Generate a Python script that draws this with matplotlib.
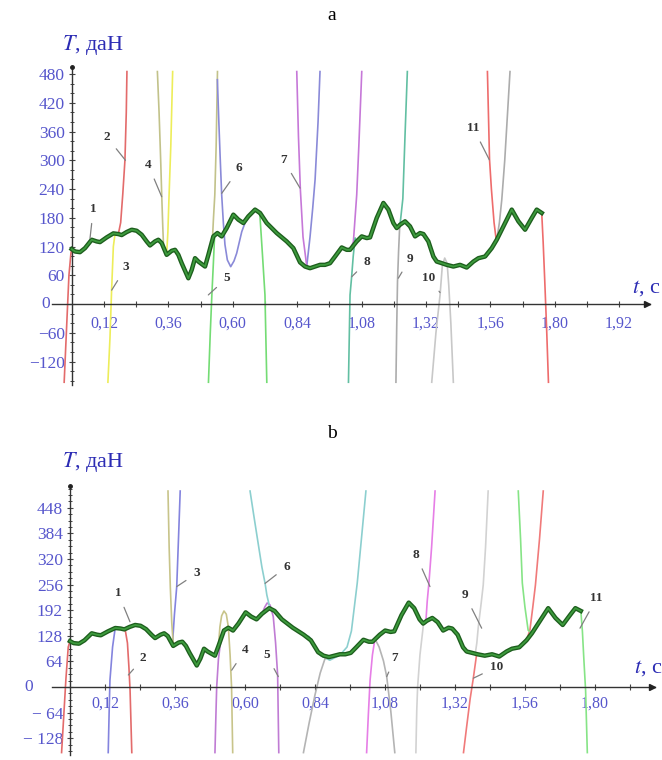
import matplotlib
matplotlib.use('Agg')
import matplotlib.pyplot as plt
from matplotlib.ticker import FixedLocator, MultipleLocator

plt.rcParams['mathtext.fontset'] = 'stix'
SERIF = ['Liberation Serif', 'DejaVu Serif']

# ---------------- main measured curve (1), t in s, T in daN ----------------
GREEN_T = [0.000, 0.0124, 0.0309, 0.0496, 0.0745, 0.0930, 0.1055, 0.1303, 0.1552, 0.1738,
           0.1863, 0.2049, 0.2235, 0.2421, 0.2608, 0.2794, 0.2918, 0.3105, 0.3229, 0.3354,
           0.3539, 0.3726, 0.3851, 0.3975, 0.4099, 0.4347, 0.4472, 0.4596, 0.4720, 0.4969,
           0.5093, 0.5279, 0.5428, 0.5590, 0.5776, 0.6024, 0.6211, 0.6397, 0.6584, 0.6832,
           0.7018, 0.7266, 0.7639, 0.8012, 0.8260, 0.8509, 0.8695, 0.8881, 0.9068, 0.9254,
           0.9441, 0.9627, 0.9814, 1.0062, 1.0248, 1.0372, 1.0621, 1.0807, 1.0994, 1.1118,
           1.1366, 1.1615, 1.1802, 1.1987, 1.2111, 1.2236, 1.2423, 1.2608, 1.2795, 1.2981,
           1.3106, 1.3292, 1.3478, 1.3602, 1.3789, 1.3975, 1.4223, 1.4472, 1.4720, 1.4969,
           1.5156, 1.5404, 1.5653, 1.5839, 1.6087, 1.6398, 1.6647, 1.6895, 1.7144, 1.7329,
           1.7516]
GREEN_V = [114.6, 109.7, 108.3, 116.7, 134.2, 130.7, 129.3, 139.1, 147.5, 146.1,
           144.0, 150.3, 155.1, 153.0, 144.7, 130.7, 122.3, 130.7, 134.2, 127.2,
           102.7, 111.1, 113.2, 102.7, 85.3, 53.8, 71.3, 95.7, 88.7, 78.3,
           102.7, 141.2, 148.2, 141.2, 158.6, 186.6, 176.1, 169.1, 183.1, 197.1,
           190.1, 169.1, 148.2, 130.7, 116.7, 87.0, 78.3, 74.8, 78.3, 81.8,
           81.8, 85.3, 99.2, 118.1, 113.2, 113.2, 130.7, 141.2, 137.7, 139.1,
           179.6, 211.0, 197.1, 169.1, 158.6, 165.6, 172.6, 162.1, 141.2, 148.2,
           146.1, 130.7, 99.2, 88.7, 85.3, 81.8, 78.3, 81.8, 76.2, 88.7,
           95.7, 99.2, 116.7, 134.2, 162.1, 197.1, 172.6, 155.1, 179.6, 197.1,
           190.1]

# ---------------- panel a: approximating curves 2..11 (diverging branches) ----------------
A2_LEFT = [(-0.0282, -165), (-0.0183, -40), (-0.0103, 60), (-0.003, 105)]
A2_RIGHT = [(0.1738, 146), (0.1825, 170), (0.1904, 230), (0.1984, 300), (0.2034, 400), (0.2059, 487)]
A3_LEFT = [(0.1348, -165), (0.1427, -70), (0.1487, 29), (0.1552, 120), (0.1616, 147)]
A3_RIGHT = [(0.3539, 105), (0.3584, 150), (0.3624, 220), (0.3693, 330), (0.3763, 487)]
A4_LEFT = [(0.3192, 487), (0.3256, 400), (0.3316, 300), (0.3356, 225), (0.3395, 160), (0.3425, 118)]
A4_RIGHT = [(0.5244, 135), (0.5284, 180), (0.5333, 228), (0.5383, 330), (0.5433, 487)]
A5_LEFT = [(0.5095, -165), (0.5164, -60), (0.5224, 20), (0.5279, 85), (0.5328, 145)]
A5_RIGHT = [(0.6894, 193), (0.7013, 186), (0.7112, 100), (0.7202, 19), (0.7271, -165)]
A6_LEFT = [(0.5428, 470), (0.5483, 380), (0.5537, 300), (0.5589, 228), (0.5651, 170), (0.5711, 124),
           (0.5800, 92), (0.5925, 78), (0.6049, 90), (0.6148, 106), (0.6337, 151), (0.6456, 169)]
A6_RIGHT = [(0.8757, 78), (0.8881, 140), (0.8981, 200), (0.9070, 260), (0.9180, 380), (0.9254, 487)]
A7_LEFT = [(0.8386, 487), (0.845, 350), (0.852, 240), (0.862, 140), (0.8757, 80)]
A7_RIGHT = [(1.0497, 130), (1.0560, 180), (1.0621, 228), (1.0700, 330), (1.0810, 487)]
A8_LEFT = [(1.0313, -165), (1.034, -80), (1.0372, 19), (1.0432, 57), (1.0491, 100), (1.0561, 138)]
A8_RIGHT = [(1.2236, 166), (1.2340, 220), (1.2420, 350), (1.2509, 487)]
A9_LEFT = [(1.2082, -165), (1.2111, -50), (1.2141, 47), (1.2181, 110), (1.2221, 160)]
A9_RIGHT = [(1.5839, 134), (1.5938, 170), (1.6027, 218), (1.6137, 300), (1.6335, 487)]
A10_LEFT = [(1.3414, -165), (1.3573, -60), (1.3727, 19), (1.3811, 80), (1.3900, 96), (1.3990, 85),
            (1.4050, 40), (1.4129, -40), (1.4223, -165)]
A10_RIGHT = []
A11_LEFT = [(1.5491, 487), (1.5570, 302), (1.5640, 240), (1.5739, 170), (1.5819, 134)]
A11_RIGHT = [(1.7518, 187), (1.7568, 130), (1.7627, 50), (1.7697, -50), (1.7767, -165)]

# label number, text position (t, T), pointed position (t, T)
A_LABELS = [('1', (0.0805, 198), (0.0682, 137)),
            ('2', (0.1304, 349), (0.2004, 300)),
            ('3', (0.2024, 77), (0.149, 29)),
            ('4', (0.2855, 290), (0.3354, 224)),
            ('5', (0.5777, 54), (0.5091, 19)),
            ('6', (0.6246, 283), (0.559, 231)),
            ('7', (0.7886, 301), (0.8509, 242)),
            ('8', (1.0995, 88), (1.0436, 57)),
            ('9', (1.2609, 95), (1.2172, 54)),
            ('10', (1.3291, 54), (1.3727, 24)),
            ('11', (1.4968, 367), (1.5564, 301))]

# ---------------- panel b ----------------
B2_LEFT = [(-0.029, -166), (-0.022, -80), (-0.014, 20), (-0.006, 100)]
B2_RIGHT = [(0.18, 147), (0.19, 140), (0.197, 110), (0.202, 50), (0.206, -8), (0.212, -166)]
B3_LEFT = [(0.131, -166), (0.134, -70), (0.137, 17), (0.146, 100), (0.154, 142)]
B3_RIGHT = [(0.352, 113), (0.358, 180), (0.366, 251), (0.372, 370), (0.378, 492)]
B4_LEFT = [(0.336, 492), (0.340, 350), (0.344, 250), (0.349, 160), (0.354, 108)]
B4_RIGHT = [(0.509, 101), (0.514, 150), (0.52, 178), (0.528, 190), (0.536, 182), (0.543, 150),
            (0.549, 80), (0.554, 0), (0.558, -166)]
B5_LEFT = [(0.497, -166), (0.500, -80), (0.503, 0), (0.509, 70), (0.516, 110)]
B5_RIGHT = [(0.668, 200), (0.676, 210), (0.686, 205), (0.697, 176), (0.705, 110), (0.712, 30), (0.716, -166)]
B6_LEFT = [(0.617, 492), (0.63, 430), (0.645, 360), (0.658, 300), (0.669, 259), (0.675, 230), (0.683, 205)]
B6_RIGHT = [(0.82, 126), (0.84, 100), (0.86, 78), (0.891, 67), (0.926, 80), (0.95, 100), (0.965, 140),
            (0.975, 200), (0.985, 260), (0.998, 360), (1.015, 492)]
B7_LEFT = [(0.80, -166), (0.82, -90), (0.84, -20), (0.858, 35), (0.874, 70)]
B7_RIGHT = [(1.046, 120), (1.06, 100), (1.075, 65), (1.086, 26), (1.1, -60), (1.114, -166)]
B8_LEFT = [(1.017, -166), (1.023, -70), (1.029, 17), (1.037, 80), (1.046, 122)]
B8_RIGHT = [(1.22, 160), (1.225, 215), (1.231, 262), (1.24, 350), (1.252, 492)]
B9_LEFT = [(1.186, -166), (1.189, -60), (1.192, 0), (1.2, 80), (1.211, 150)]
B9_RIGHT = [(1.39, 85), (1.395, 110), (1.40, 150), (1.41, 210), (1.417, 255), (1.425, 350), (1.434, 492)]
B10_LEFT = [(1.349, -166), (1.36, -100), (1.372, -30), (1.383, 22), (1.394, 80)]
B10_RIGHT = [(1.577, 142), (1.587, 200), (1.596, 255), (1.61, 370), (1.623, 492)]
B11_LEFT = [(1.537, 492), (1.545, 370), (1.551, 260), (1.56, 200), (1.571, 142)]
B11_RIGHT = [(1.752, 187), (1.757, 140), (1.762, 70), (1.768, -8), (1.774, -166)]

B_LABELS = [('1', (0.1656, 234), (0.2057, 163)),
            ('2', (0.2513, 72), (0.200, 30)),
            ('3', (0.4345, 284), (0.366, 251)),
            ('4', (0.600, 92), (0.5545, 42)),
            ('5', (0.6745, 80), (0.7143, 26)),
            ('6', (0.7431, 301), (0.669, 259)),
            ('7', (1.1144, 72), (1.086, 26)),
            ('8', (1.1864, 330), (1.2344, 251)),
            ('9', (1.3545, 230), (1.4117, 147)),
            ('10', (1.4632, 50), (1.383, 22)),
            ('11', (1.806, 222), (1.7488, 147))]

# ---------------- ticks ----------------
A_XTICKS = [0.12, 0.36, 0.60, 0.84, 1.08, 1.32, 1.56, 1.80, 2.04]
A_XLABELS = ['0,12', '0,36', '0,60', '0,84', '1,08', '1,32', '1,56', '1,80', '1,92']
A_XMINOR = [0.24, 0.48, 0.72, 0.96, 1.20, 1.44, 1.68, 1.92]
A_YTICKS = [-120, -60, 0, 60, 120, 180, 240, 300, 360, 420, 480]
A_YLABELS = ['\u2212120', '\u221260', '', '60', '120', '180', '240', '300', '360', '420', '480']
A_ZERO_T = -0.098

B_XTICKS = [0.12, 0.36, 0.60, 0.84, 1.08, 1.32, 1.56, 1.80]
B_XLABELS = ['0,12', '0,36', '0,60', '0,84', '1,08', '1,32', '1,56', '1,80']
B_XMINOR = [0.24, 0.48, 0.72, 0.96, 1.20, 1.44, 1.68, 1.92]
B_YTICKS = [-128, -64, 0, 64, 128, 192, 256, 320, 384, 448]
B_YLABELS = ['\u2212 128', '\u2212 64', '', '64', '128', '192', '256', '320', '384', '448']
B_ZERO_T = -0.142

# ---------------- styles ----------------
A_CURVES = [(A2_LEFT, A2_RIGHT, '#e36b6b'), (A3_LEFT, A3_RIGHT, '#eded5a'),
            (A4_LEFT, A4_RIGHT, '#c2c28a'), (A5_LEFT, A5_RIGHT, '#74dc74'),
            (A6_LEFT, A6_RIGHT, '#8a8ad8'), (A7_LEFT, A7_RIGHT, '#c678d8'),
            (A8_LEFT, A8_RIGHT, '#62bfa2'), (A9_LEFT, A9_RIGHT, '#acacac'),
            (A10_LEFT, A10_RIGHT, '#c8c8c8'), (A11_LEFT, A11_RIGHT, '#ee6c6c')]
B_CURVES = [(B2_LEFT, B2_RIGHT, '#e36b6b'), (B3_LEFT, B3_RIGHT, '#8484de'),
            (B4_LEFT, B4_RIGHT, '#c8c48a'), (B5_LEFT, B5_RIGHT, '#c07cd4'),
            (B6_LEFT, B6_RIGHT, '#8ccfcf'), (B7_LEFT, B7_RIGHT, '#b4b4b4'),
            (B8_LEFT, B8_RIGHT, '#e67ee6'), (B9_LEFT, B9_RIGHT, '#d2d2d2'),
            (B10_LEFT, B10_RIGHT, '#f07a7a'), (B11_LEFT, B11_RIGHT, '#86e486')]

TICK_BLUE = '#5656cc'
LABEL_BLUE = '#2c2cb4'


def assemble(left, right):
    ts = [p[0] for p in left]
    vs = [p[1] for p in left]
    if left and right:
        t0, t1 = left[-1][0], right[0][0]
        for t, v in zip(GREEN_T, GREEN_V):
            if t0 < t < t1:
                ts.append(t)
                vs.append(v)
    ts += [p[0] for p in right]
    vs += [p[1] for p in right]
    return ts, vs


def draw_panel(ax, curves, labels, xt, xl, xminor, yt, yl, yminor, xlim, ylim, xpad, ypad, zero_t):
    ax.set_xlim(*xlim)
    ax.set_ylim(*ylim)
    for left, right, col in curves:
        ts, vs = assemble(left, right)
        ax.plot(ts, vs, color=col, lw=1.2, zorder=2, solid_capstyle='butt')
    ax.plot(GREEN_T, GREEN_V, color='#1d5e1d', lw=3.2, zorder=4, solid_joinstyle='round')
    ax.plot(GREEN_T, GREEN_V, color='#3d9b3d', lw=1.3, zorder=5, solid_joinstyle='round')
    for txt, tp, pp in labels:
        ax.annotate(txt, xy=pp, xytext=tp, ha='center', va='center', fontsize=9.5,
                    fontfamily=SERIF, fontweight='bold', color='#333333', zorder=6,
                    arrowprops=dict(arrowstyle='-', color='#808080', lw=0.9,
                                    shrinkA=4, shrinkB=0))
    for s in ('top', 'right'):
        ax.spines[s].set_visible(False)
    ax.spines['left'].set_position(('data', 0))
    ax.spines['bottom'].set_position(('data', 0))
    for s in ('left', 'bottom'):
        ax.spines[s].set_color('#333333')
        ax.spines[s].set_linewidth(1.0)
    ax.xaxis.set_major_locator(FixedLocator(xt))
    ax.xaxis.set_minor_locator(FixedLocator(xminor))
    ax.set_xticklabels(xl, fontfamily=SERIF, fontsize=11.5, color=TICK_BLUE)
    ax.yaxis.set_major_locator(FixedLocator(yt))
    ax.yaxis.set_minor_locator(MultipleLocator(yminor))
    ax.set_yticklabels(yl, fontfamily=SERIF, fontsize=12.5, color=TICK_BLUE)
    ax.text(zero_t, 0, '0', ha='center', va='center', fontfamily=SERIF, fontsize=12.5,
            color=TICK_BLUE, clip_on=False)
    ax.tick_params(axis='x', which='both', direction='inout', length=4, width=0.8,
                   color='#444444', pad=xpad)
    ax.tick_params(axis='y', which='major', direction='inout', length=4, width=0.8,
                   color='#444444', pad=ypad)
    ax.tick_params(axis='y', which='minor', direction='inout', length=3, width=0.7,
                   color='#444444')
    ax.plot(0.995, 0, marker='>', color='#222222', ms=4.5, transform=ax.get_yaxis_transform(),
            clip_on=False, zorder=7)
    ax.plot(0, 1, marker='o', color='#222222', ms=2.5, transform=ax.get_xaxis_transform(),
            clip_on=False, zorder=7)
    ax.patch.set_alpha(0)


fig = plt.figure(figsize=(6.62, 7.60), dpi=100)
W, H = 662.0, 760.0

ax_a = fig.add_axes([52 / W, 1 - 385 / H, 598 / W, 318 / H])
draw_panel(ax_a, A_CURVES, A_LABELS, A_XTICKS, A_XLABELS, A_XMINOR, A_YTICKS, A_YLABELS, 20,
           (-0.0734, 2.155), (-169, 494.8), 6, 3, A_ZERO_T)

ax_b = fig.add_axes([52 / W, 1 - 755 / H, 603 / W, 269 / H])
draw_panel(ax_b, B_CURVES, B_LABELS, B_XTICKS, B_XLABELS, B_XMINOR, B_YTICKS, B_YLABELS, 16,
           (-0.0617, 2.006), (-170, 502.5), 4, 3, B_ZERO_T)

fig.text(332 / W, 1 - 15 / H, 'a', ha='center', va='center', fontsize=14, fontfamily=SERIF, color='black')
fig.text(332 / W, 1 - 433 / H, 'b', ha='center', va='center', fontsize=14, fontfamily=SERIF, color='black')
fig.text(62 / W, 1 - 45 / H, r'$T$, даН', ha='left', va='center', fontsize=16, fontfamily=SERIF, color=LABEL_BLUE)
fig.text(62 / W, 1 - 462 / H, r'$T$, даН', ha='left', va='center', fontsize=16, fontfamily=SERIF, color=LABEL_BLUE)
fig.text(632 / W, 1 - 288 / H, r'$t$, с', ha='left', va='center', fontsize=16, fontfamily=SERIF, color=LABEL_BLUE)
fig.text(634 / W, 1 - 668 / H, r'$t$, с', ha='left', va='center', fontsize=16, fontfamily=SERIF, color=LABEL_BLUE)

fig.savefig('out.png', dpi=100)
